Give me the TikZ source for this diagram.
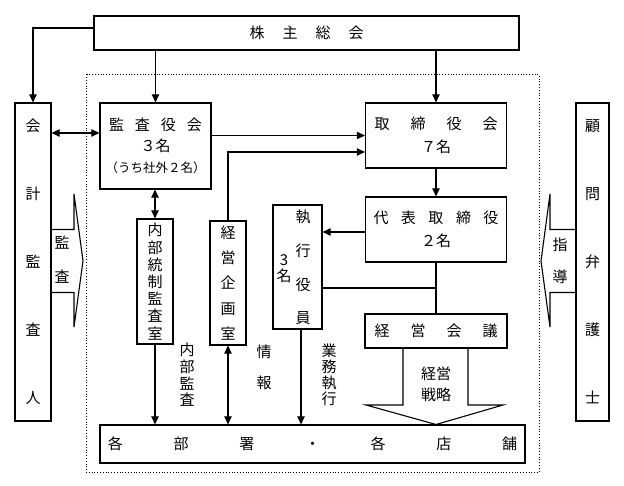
\documentclass[tikz,border=0pt]{standalone}
\usepackage{fontspec}
\setmainfont{Noto Sans CJK JP}
\usetikzlibrary{arrows.meta}
\newcommand\gp[1]{\hspace{#1pt}}
\begin{document}
\begin{tikzpicture}[x=1pt,y=-1pt,
  every node/.style={font=\fontsize{15}{17}\selectfont, inner sep=0pt},
  box/.style={draw,line width=1.3pt,inner sep=0pt,align=center},
  arr/.style={-{Triangle[length=8pt,width=7.5pt]},line width=1.1pt},
  darr/.style={{Triangle[length=8pt,width=7.5pt]}-{Triangle[length=8pt,width=7.5pt]},line width=1.1pt},
  ln/.style={line width=1.1pt},
  blk/.style={line width=1.1pt,line join=miter},
  lbl/.style={align=center}]
\useasboundingbox (0,0) rectangle (624,486);
\fill[white] (0,0) rectangle (624,486);
\draw[dotted,line width=0.8pt] (86,74.5) rectangle (539,472);

\node[box,minimum width=425pt,minimum height=34pt] (soukai) at (306.5,33) {株\gp{18}主\gp{18}総\gp{18}会};
\node[box,minimum width=36pt,minimum height=318pt,font=\fontsize{15}{68}\selectfont] (kaikei) at (33,262) {会\\計\\監\\査\\人};
\node[box,minimum width=33pt,minimum height=318pt,font=\fontsize{15}{68}\selectfont] (komon) at (592.5,262) {顧\\問\\弁\\護\\士};
\node[box,minimum width=111pt,minimum height=86pt,font=\fontsize{15}{21}\selectfont] (kansa) at (155.5,146) {監\gp{11}査\gp{11}役\gp{11}会\\３名\\{\fontsize{12.5}{21}\selectfont （うち社外２名）}};
\node[box,minimum width=141pt,minimum height=65pt,font=\fontsize{15}{23}\selectfont] (torishimari) at (436,135.5) {取\gp{21}締\gp{21}役\gp{21}会\\７名};
\node[box,minimum width=141pt,minimum height=65pt,font=\fontsize{15}{23}\selectfont] (daihyo) at (436,229.5) {代\gp{12.5}表\gp{12.5}取\gp{12.5}締\gp{12.5}役\\２名};
\node[box,minimum width=49pt,minimum height=124pt] (shikko) at (297.5,267) {};
\node[lbl,font=\fontsize{15}{33.7}\selectfont] (shikkotxt) at (303,267.5) {執\\行\\役\\員};
\node[lbl,font=\fontsize{15}{16}\selectfont] (shikkonum) at (284,269) {3\\名};
\node[box,minimum width=142pt,minimum height=34pt] (kaigi) at (436,331) {経\gp{21}営\gp{21}会\gp{21}議};
\node[box,minimum width=36pt,minimum height=125pt,font=\fontsize{15}{17.2}\selectfont] (naibu) at (155,281.5) {内\\部\\統\\制\\監\\査\\室};
\node[box,minimum width=36pt,minimum height=124pt,font=\fontsize{15}{25.25}\selectfont] (kikaku) at (228,283) {経\\営\\企\\画\\室};
\node[box,minimum width=425pt,minimum height=38pt] (kakubusho) at (312.5,444) {各\gp{50.7}部\gp{50.7}署\gp{50.7}・\gp{50.7}各\gp{50.7}店\gp{50.7}舗};

% labels
\node[lbl,font=\fontsize{15}{16.7}\selectfont] (lnaibu) at (187,375) {内\\部\\監\\査};
\node[lbl,font=\fontsize{15}{31}\selectfont] (ljoho) at (264,367.5) {情\\報};
\node[lbl,font=\fontsize{15}{16}\selectfont] (lgyomu) at (329,375) {業\\務\\執\\行};
\node[lbl,font=\fontsize{15}{34}\selectfont] (lkansa) at (62,260) {監\\査};
\node[lbl,font=\fontsize{15}{32}\selectfont] (lshido) at (560,261) {指\\導};
\node[lbl,font=\fontsize{15}{21}\selectfont] (lsenryaku) at (436,384.5) {経営\\戦略};

% connectors
\draw[arr] ([yshift=5pt]soukai.west) -| (kaikei.north);
\draw[arr] (soukai.south -| kansa.north) -- (kansa.north);
\draw[arr] (soukai.south -| torishimari.north) -- (torishimari.north);
\coordinate (kk) at ([yshift=13pt]kansa.west);
\draw[darr] (kk -| kaikei.east) -- (kk);
\draw[arr] (torishimari.west -| kansa.east) -- (torishimari.west);
\coordinate (ki) at ([yshift=-16.5pt]torishimari.west);
\draw[arr] (kikaku.north) |- (ki);
\draw[arr] (torishimari.south) -- (daihyo.north);
\coordinate (ds) at ([yshift=-2.5pt]daihyo.west);
\draw[arr] (ds) -- (ds -| shikko.east);
\draw[ln] (daihyo.south) -- (kaigi.north);
\coordinate (br) at ([yshift=-21pt]shikko.east);
\draw[ln] (br) -- (br -| daihyo.south);
\draw[darr] (kansa.south -| naibu.north) -- (naibu.north);
\draw[arr] (naibu.south) -- (naibu.south |- kakubusho.north);
\draw[darr] (kikaku.south) -- (kikaku.south |- kakubusho.north);
\coordinate (sb) at ([xshift=3.5pt]shikko.south);
\draw[arr] (sb) -- (sb |- kakubusho.north);

% block arrows
\draw[blk] (51,229.5) -- (74,229.5) -- (74,194) -- (83,261) -- (74,327) -- (74,292.5) -- (51,292.5);
\draw[blk] (576,229.5) -- (550,229.5) -- (550,194) -- (541,261) -- (550,327) -- (550,292.5) -- (576,292.5);
\draw[blk] (403,348) -- (403,405) -- (366,405) -- (436,424.5) -- (503,405) -- (468,405) -- (468,348);
\end{tikzpicture}
\end{document}
